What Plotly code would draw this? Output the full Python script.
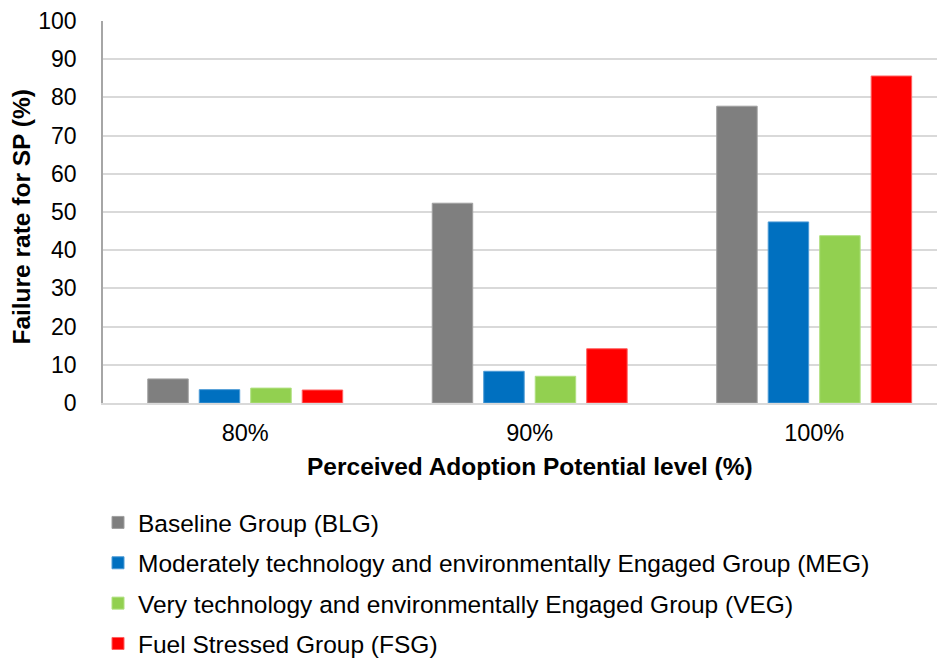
import plotly.graph_objects as go

categories = ["80%", "90%", "100%"]
series_names = [
    "Baseline Group (BLG)",
    "Moderately technology and environmentally Engaged Group (MEG)",
    "Very technology and environmentally Engaged Group (VEG)",
    "Fuel Stressed Group (FSG)",
]
blg = [6.3, 52.3, 77.7]
meg = [3.5, 8.3, 47.4]
veg = [3.9, 7.0, 43.8]
fsg = [3.4, 14.2, 85.6]
colors = ["#7F7F7F", "#0070C0", "#92D050", "#FF0000"]
edge_colors = ["#A0A0A0", "#4D9BD6", "#B0E080", "#FF6060"]
y_ticks = list(range(0, 101, 10))

FONT = "Liberation Sans, Arial, sans-serif"

fig = go.Figure()
for i, (name, vals) in enumerate(zip(series_names, [blg, meg, veg, fsg])):
    fig.add_trace(go.Bar(
        x=categories, y=vals, name=name,
        marker=dict(color=colors[i], line=dict(color=edge_colors[i], width=1)),
        legendgroup=f"g{i}",
    ))

fig.update_layout(
    width=945, height=660,
    paper_bgcolor="white", plot_bgcolor="white",
    margin=dict(l=95, r=0, t=13, b=265, autoexpand=False),
    barmode="group", bargap=0.276, bargroupgap=0.214,
    font=dict(family=FONT, size=24.5, color="#000000"),
    showlegend=True,
    legend=dict(
        orientation="v",
        xref="container", x=90 / 945, xanchor="left",
        yref="container", y=1 - 492 / 660, yanchor="top",
        traceorder="grouped", tracegroupgap=5.5,
        font=dict(family=FONT, size=24.5, color="#000000"),
        bgcolor="rgba(0,0,0,0)",
    ),
)

fig.update_xaxes(
    type="category", range=[-0.5, 2.488], automargin=False,
    showline=True, linecolor="#D9D9D9", linewidth=1.5,
    showgrid=False, ticks="", ticklabelstandoff=8,
    tickfont=dict(family=FONT, size=23.5, color="#000000"),
)
fig.update_yaxes(
    range=[0, 100], tickvals=y_ticks, automargin=False,
    showline=True, linecolor="#A6A6A6", linewidth=1.5,
    showgrid=True, gridcolor="#D9D9D9", gridwidth=1.5,
    zeroline=False, ticks="", ticklabelstandoff=20,
    tickfont=dict(family=FONT, size=23, color="#000000"),
)

fig.add_annotation(
    text="<b>Failure rate for SP (%)</b>", textangle=-90,
    xref="paper", x=(14 - 95) / 850, xanchor="center",
    yref="paper", y=0.488, yanchor="middle",
    showarrow=False, font=dict(family=FONT, size=24.5, color="#000000"),
)
fig.add_annotation(
    text="<b>Perceived Adoption Potential level (%)</b>",
    xref="x", x=1, yref="paper", y=-0.165, yanchor="middle",
    showarrow=False, font=dict(family=FONT, size=24.5, color="#000000"),
)

fig.write_html("out.html")
